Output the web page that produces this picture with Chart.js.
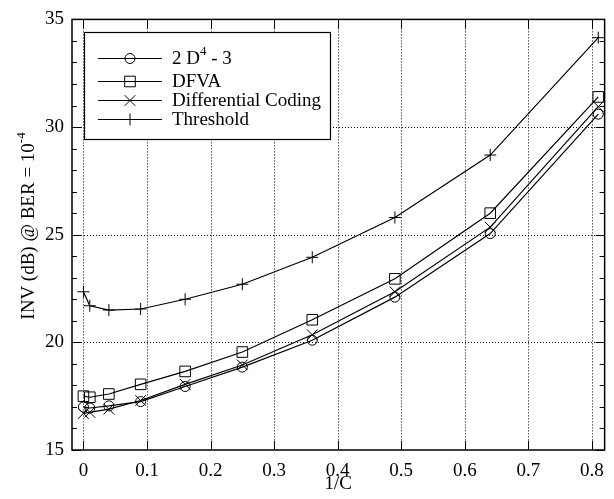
<!DOCTYPE html>
<html>
<head>
<meta charset="utf-8">
<script src="https://cdn.jsdelivr.net/npm/chart.js@4.4.0/dist/chart.umd.min.js"></script>
<style>
  body { margin: 0; background: #fff; }
  #wrap { width: 614px; height: 499px; position: relative; }
</style>
</head>
<body>
<div id="wrap"><canvas id="chart"></canvas></div>
<script>
// 1/C values and INV (dB) for each scheme
const invC = [0, 0.01, 0.04, 0.09, 0.16, 0.25, 0.36, 0.49, 0.64, 0.81];
const d4Minus3 = [17.0, 16.95, 17.05, 17.25, 17.95, 18.85, 20.1, 22.1, 25.05, 30.6];
const dfva = [17.5, 17.45, 17.6, 18.05, 18.65, 19.55, 21.05, 22.95, 26.0, 31.4];
const diffCoding = [16.7, 16.75, 16.9, 17.3, 18.05, 18.95, 20.35, 22.35, 25.35, 30.95];
const threshold = [22.35, 21.7, 21.5, 21.55, 22.0, 22.7, 23.95, 25.8, 28.7, 34.15];

const xTicks = [0, 0.1, 0.2, 0.3, 0.4, 0.5, 0.6, 0.7, 0.8];
const xTickLabels = ['0', '0.1', '0.2', '0.3', '0.4', '0.5', '0.6', '0.7', '0.8'];
const yTicks = [15, 20, 25, 30, 35];
const yMinor = [16, 17, 18, 19, 21, 22, 23, 24, 26, 27, 28, 29, 31, 32, 33, 34];

const FONT = "'Liberation Serif', 'Times New Roman', serif";

// legend text is split in [text, isSuperscript] parts
const series = [
    { data: d4Minus3, style: 'circle', radius: 5, label: [['2 D', false], ['4', true], [' - 3', false]] },
    { data: dfva, style: 'rect', radius: 7.5, label: [['DFVA', false]] },
    { data: diffCoding, style: 'crossRot', radius: 7.5, label: [['Differential Coding', false]] },
    { data: threshold, style: 'cross', radius: 6, label: [['Threshold', false]] }
];

function toPoints(ys) {
    return invC.map((x, i) => ({ x: x, y: ys[i] }));
}

function drawMarker(ctx, style, x, y, r) {
    ctx.beginPath();
    if (style === 'circle') {
        ctx.arc(x, y, r, 0, Math.PI * 2);
    } else if (style === 'rect') {
        const s = r * Math.SQRT1_2;
        ctx.rect(x - s, y - s, 2 * s, 2 * s);
    } else if (style === 'crossRot') {
        const s = r * Math.SQRT1_2;
        ctx.moveTo(x - s, y - s); ctx.lineTo(x + s, y + s);
        ctx.moveTo(x - s, y + s); ctx.lineTo(x + s, y - s);
    } else {
        ctx.moveTo(x - r, y); ctx.lineTo(x + r, y);
        ctx.moveTo(x, y - r); ctx.lineTo(x, y + r);
    }
    ctx.stroke();
}

// draws text parts with superscripts, starting at x on the given baseline
function partsWidth(ctx, parts, size) {
    let w = 0;
    parts.forEach(([t, sup]) => {
        ctx.font = (sup ? Math.round(size * 0.7) : size) + 'px ' + FONT;
        w += ctx.measureText(t).width;
    });
    return w;
}
function drawParts(ctx, parts, x, y, size) {
    ctx.textAlign = 'left';
    ctx.textBaseline = 'alphabetic';
    parts.forEach(([t, sup]) => {
        ctx.font = (sup ? Math.round(size * 0.7) : size) + 'px ' + FONT;
        ctx.fillText(t, x, sup ? y - size * 0.45 : y);
        x += ctx.measureText(t).width;
    });
}

const framePlugin = {
    id: 'frame',
    beforeDatasetsDraw(chart) {
        const ctx = chart.ctx;
        const a = chart.chartArea;
        const xs = chart.scales.x, ys = chart.scales.y;
        ctx.save();
        ctx.strokeStyle = '#000';
        ctx.lineWidth = 1;
        ctx.setLineDash([1, 2]);
        xTicks.forEach(v => {
            const px = Math.round(xs.getPixelForValue(v)) + 0.5;
            ctx.beginPath(); ctx.moveTo(px, a.top); ctx.lineTo(px, a.bottom); ctx.stroke();
        });
        yTicks.slice(1, -1).forEach(v => {
            const py = Math.round(ys.getPixelForValue(v)) + 0.5;
            ctx.beginPath(); ctx.moveTo(a.left, py); ctx.lineTo(a.right, py); ctx.stroke();
        });
        ctx.restore();
    },
    afterDatasetsDraw(chart) {
        const ctx = chart.ctx;
        const a = chart.chartArea;
        const xs = chart.scales.x, ys = chart.scales.y;
        ctx.save();
        ctx.strokeStyle = '#000';
        ctx.fillStyle = '#000';
        ctx.lineWidth = 1;

        // inside ticks on all four sides
        ctx.beginPath();
        xTicks.forEach(v => {
            const px = Math.round(xs.getPixelForValue(v)) + 0.5;
            ctx.moveTo(px, a.bottom); ctx.lineTo(px, a.bottom - 9);
            ctx.moveTo(px, a.top); ctx.lineTo(px, a.top + 9);
        });
        yTicks.forEach(v => {
            const py = Math.round(ys.getPixelForValue(v)) + 0.5;
            ctx.moveTo(a.left, py); ctx.lineTo(a.left + 9, py);
            ctx.moveTo(a.right, py); ctx.lineTo(a.right - 9, py);
        });
        yMinor.forEach(v => {
            const py = Math.round(ys.getPixelForValue(v)) + 0.5;
            ctx.moveTo(a.left, py); ctx.lineTo(a.left + 5, py);
            ctx.moveTo(a.right, py); ctx.lineTo(a.right - 5, py);
        });
        ctx.stroke();

        // plot box
        ctx.lineWidth = 1.5;
        ctx.strokeRect(a.left, a.top, a.right - a.left, a.bottom - a.top);

        // legend
        const lx = 84, ly = 32, lw = 246, lh = 107;
        ctx.fillStyle = '#fff';
        ctx.fillRect(lx, ly, lw, lh);
        ctx.lineWidth = 1.2;
        ctx.strokeRect(lx + 0.5, ly + 0.5, lw, lh);
        const rows = [58, 81, 100, 119];
        series.forEach((s, i) => {
            const y = rows[i];
            ctx.lineWidth = 1;
            ctx.beginPath(); ctx.moveTo(98, y + 0.5); ctx.lineTo(162, y + 0.5); ctx.stroke();
            drawMarker(ctx, s.style, 130, y + 0.5, s.radius);
            ctx.fillStyle = '#000';
            drawParts(ctx, s.label, 172, y + 6, 19);
        });

        // axis titles
        ctx.fillStyle = '#000';
        ctx.font = '19px ' + FONT;
        ctx.textAlign = 'center';
        ctx.textBaseline = 'middle';
        ctx.fillText('1/C', (a.left + a.right) / 2, 484);

        const yTitle = [['INV (dB) @ BER = 10', false], ['-4', true]];
        const w = partsWidth(ctx, yTitle, 19);
        ctx.translate(34, 226);
        ctx.rotate(-Math.PI / 2);
        drawParts(ctx, yTitle, -w / 2, 0, 19);
        ctx.restore();
    }
};

new Chart(document.getElementById('chart'), {
    type: 'scatter',
    data: {
        datasets: series.map(s => ({
            data: toPoints(s.data),
            showLine: true,
            borderColor: '#000',
            borderWidth: 1.2,
            pointStyle: s.style,
            pointRadius: s.radius,
            pointBorderWidth: 1,
            pointBorderColor: '#000',
            pointBackgroundColor: 'rgba(0,0,0,0)',
            tension: 0
        }))
    },
    options: {
        responsive: true,
        maintainAspectRatio: false,
        animation: false,
        events: [],
        layout: { padding: { top: 14, right: 3, left: 0, bottom: 0 } },
        plugins: { legend: { display: false }, tooltip: { enabled: false } },
        scales: {
            x: {
                type: 'linear',
                min: -0.018,
                max: 0.82,
                afterBuildTicks: scale => { scale.ticks = xTicks.map(v => ({ value: v })); },
                afterFit: scale => { scale.height = 49; },
                grid: { display: false, drawTicks: false },
                border: { display: false },
                ticks: {
                    color: '#000',
                    padding: 10,
                    font: { family: FONT, size: 19 },
                    maxRotation: 0,
                    callback: v => xTickLabels[xTicks.indexOf(v)]
                }
            },
            y: {
                type: 'linear',
                min: 15,
                max: 35,
                afterBuildTicks: scale => { scale.ticks = yTicks.map(v => ({ value: v })); },
                afterFit: scale => { scale.width = 72; },
                grid: { display: false, drawTicks: false },
                border: { display: false },
                ticks: {
                    color: '#000',
                    padding: 8,
                    font: { family: FONT, size: 19 }
                }
            }
        }
    },
    plugins: [framePlugin]
});
</script>
</body>
</html>
